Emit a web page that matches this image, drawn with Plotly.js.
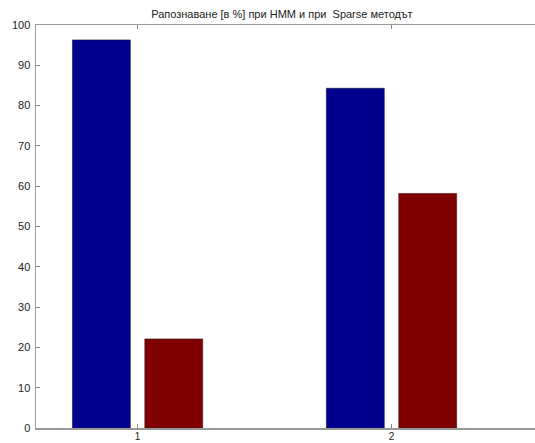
<!DOCTYPE html>
<html>
<head>
<meta charset="utf-8">
<script src="https://cdn.plot.ly/plotly-3.0.1.min.js"></script>
<style>html,body{margin:0;padding:0;background:#fff}#chart{width:535px;height:443px}</style>
</head>
<body>
<div id="chart"></div>
<script>
var categories = [1, 2];
var seriesHMM = [96.3, 84.3];
var seriesSparse = [22.1, 58.2];
var titleText = "Рапознаване [в %] при HMM и при  Sparse методът";
var yTicks = [0, 10, 20, 30, 40, 50, 60, 70, 80, 90, 100];

var data = [
  {type: 'bar', x: categories, y: seriesHMM, marker: {color: '#00008F', line: {color: '#1a1a3a', width: 0.6}}, hoverinfo: 'y'},
  {type: 'bar', x: categories, y: seriesSparse, marker: {color: '#800000', line: {color: '#3a1a1a', width: 0.6}}, hoverinfo: 'y'}
];

var layout = {
  width: 535, height: 443,
  margin: {l: 36, r: 0, t: 25, b: 15, pad: 0},
  paper_bgcolor: '#fff', plot_bgcolor: '#fff',
  showlegend: false,
  barmode: 'group', bargap: 0.43, bargroupgap: 0.2,
  font: {family: 'Liberation Sans, Arial, sans-serif', size: 11, color: '#222'},
  title: {text: titleText, font: {size: 11, color: '#222'}, x: 0.527, xanchor: 'center', y: 0.968, yanchor: 'middle'},
  xaxis: {
    range: [0.6, 2.565], tickvals: categories, ticktext: categories.map(String),
    ticks: 'inside', ticklen: 4, tickcolor: '#888', showline: true, linecolor: '#999', linewidth: 1.5,
    mirror: 'ticks', showgrid: false, zeroline: false, fixedrange: true,
    tickfont: {size: 10}, ticklabelstandoff: -2
  },
  yaxis: {
    range: [0, 100], tickvals: yTicks, ticks: 'inside', ticklen: 4, tickcolor: '#888',
    showline: true, linecolor: '#999', linewidth: 1.5, mirror: false,
    showgrid: false, zeroline: false, ticklabelstandoff: 2, fixedrange: true
  }
};

Plotly.newPlot('chart', data, layout, {displayModeBar: false, staticPlot: true});
</script>
</body>
</html>
